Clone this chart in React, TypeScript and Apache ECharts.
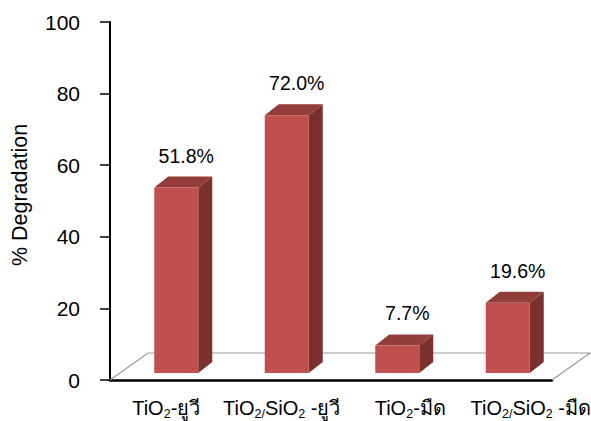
import React, { useEffect, useRef } from "react";
import * as echarts from "echarts";

const categories = ["TiO2-ยูวี", "TiO2/SiO2 -ยูวี", "TiO2-มืด", "TiO2/SiO2 -มืด"];
const degradation = [51.8, 72.0, 7.7, 19.6];
const yMin = 0;
const yMax = 100;
const yStep = 20;
const yAxisTitle = "% Degradation";

const FONT = "'Liberation Sans', Arial, Helvetica, sans-serif";

function richLabel(s: string): string {
  return s
    .split(/(2\/?)/)
    .filter((p) => p.length > 0)
    .map((p) => (/^2\/?$/.test(p) ? `{s|${p}}` : `{a|${p}}`))
    .join("");
}

export default function App() {
  const ref = useRef<HTMLDivElement>(null);
  useEffect(() => {
    document.body.style.margin = "0";
    if (!ref.current) return;
    const chart = echarts.init(ref.current, undefined, { renderer: "svg" });
    // horizontal shift of each category label (the 3D perspective spreads them out)
    const labelShift = [1, 6, 24, 34];
    const option: any = {
      animation: false,
      backgroundColor: "#ffffff",
      grid: { left: 110, right: 39, top: 22, bottom: 41, containLabel: false },
      xAxis: {
        type: "category",
        data: categories,
        axisLine: { show: true, lineStyle: { color: "#000", width: 2.5 } },
        axisTick: { show: false },
        axisLabel: { show: false },
        splitLine: { show: false },
      },
      yAxis: {
        type: "value",
        min: yMin,
        max: yMax,
        interval: yStep,
        axisLine: { show: true, lineStyle: { color: "#000", width: 2 } },
        axisTick: { show: true, length: 10, lineStyle: { color: "#000", width: 1.5 } },
        axisLabel: { fontSize: 21, fontFamily: FONT, color: "#000", margin: 30 },
        splitLine: { show: false },
      },
      graphic: [
        {
          type: "text",
          x: 20,
          y: 195,
          rotation: Math.PI / 2,
          style: {
            text: yAxisTitle,
            fontSize: 21.5,
            fontFamily: FONT,
            fill: "#000",
            align: "center",
            verticalAlign: "middle",
          },
        },
      ],
      series: [
        {
          type: "custom",
          z: 1,
          silent: true,
          data: [[0, 0]],
          encode: { x: 0, y: 1 },
          renderItem: (params: any) => {
            const cs = params.coordSys;
            const bx = cs.x;
            const by = cs.y + cs.height;
            const r = cs.x + cs.width;
            const dx = 38;
            const dy = 27;
            return {
              type: "polyline",
              shape: {
                points: [
                  [bx, by],
                  [bx + dx, by - dy],
                  [r + dx, by - dy],
                  [r, by],
                ],
              },
              style: { stroke: "#9a9a9a", lineWidth: 1.2, fill: "none" },
            };
          },
        },
        {
          type: "custom",
          z: 3,
          silent: true,
          data: degradation.map((v, i) => [i, v]),
          encode: { x: 0, y: 1 },
          renderItem: (params: any, api: any) => {
            const idx = api.value(0);
            const v = api.value(1);
            const top = api.coord([idx, v]);
            const base = api.coord([idx, 0]);
            const cx = top[0] + 11;
            const w = 44;
            const dx = 14;
            const dy = 11;
            const oy = 7;
            const x0 = cx - w / 2;
            const x1 = cx + w / 2;
            const yt = top[1] - oy;
            const yb = base[1] - oy;
            return {
              type: "group",
              children: [
                {
                  type: "polygon",
                  shape: { points: [[x1, yt], [x1 + dx, yt - dy], [x1 + dx, yb - dy], [x1, yb]] },
                  style: { fill: "#7B302E" },
                },
                {
                  type: "polygon",
                  shape: { points: [[x0, yt], [x0 + dx, yt - dy], [x1 + dx, yt - dy], [x1, yt]] },
                  style: { fill: "#923D3A" },
                },
                {
                  type: "rect",
                  shape: { x: x0, y: yt, width: w, height: yb - yt },
                  style: { fill: "#C0504D" },
                },
                {
                  type: "text",
                  x: cx + dx / 2 + 3,
                  y: yt - 32,
                  style: {
                    text: v.toFixed(1) + "%",
                    fontSize: 19.5,
                    fontFamily: FONT,
                    fill: "#000",
                    align: "center",
                    verticalAlign: "middle",
                  },
                },
                {
                  type: "text",
                  x: base[0] + labelShift[idx],
                  y: base[1] + 28,
                  style: {
                    text: richLabel(categories[idx]),
                    align: "center",
                    verticalAlign: "middle",
                    rich: {
                      a: { fontSize: 20, fontFamily: FONT, fill: "#000", lineHeight: 24 },
                      s: { fontSize: 12.5, fontFamily: FONT, fill: "#000", lineHeight: 9, verticalAlign: "bottom" },
                    },
                  },
                },
              ],
            };
          },
        },
      ],
    };
    chart.setOption(option);
    return () => chart.dispose();
  }, []);
  return <div ref={ref} style={{ width: 591, height: 421 }} />;
}
